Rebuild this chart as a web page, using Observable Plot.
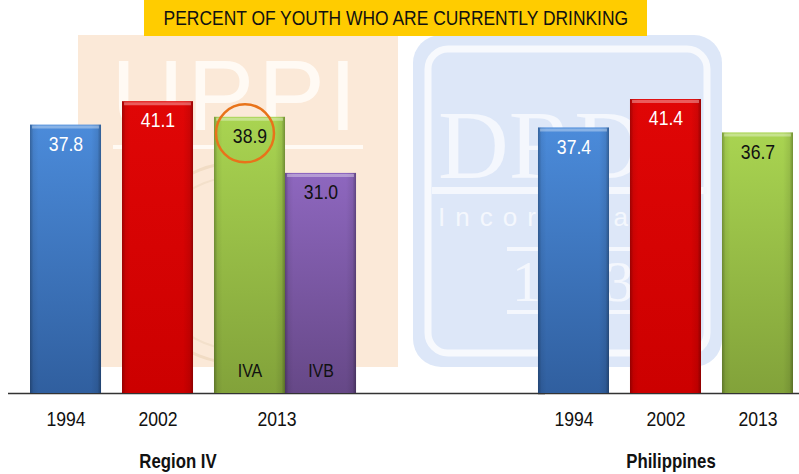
<!DOCTYPE html>
<html><head><meta charset="utf-8">
<script src="https://cdn.jsdelivr.net/npm/d3@7"></script>
<script src="https://cdn.jsdelivr.net/npm/@observablehq/plot@0.6"></script>
<style>
body{margin:0;background:#fff;overflow:hidden;}
#wrap{position:relative;width:799px;height:474px;}
#bg{position:absolute;left:0;top:0;}
#chart{position:absolute;left:0;top:0;}
#title{position:absolute;left:144px;top:0;width:503px;height:36px;background:#ffcc00;font-family:"Liberation Sans Narrow","Arial Narrow","Liberation Sans",sans-serif;font-size:21px;color:#111;display:flex;align-items:center;justify-content:center;white-space:nowrap;}
#title span{display:inline-block;transform:scaleX(0.83);}
</style></head>
<body>
<div id="wrap">
<svg id="bg" width="799" height="474">
  <rect x="78" y="35" width="320" height="332" fill="#fbe9d8"/>
  <text x="236" y="130" text-anchor="middle" font-family="'Liberation Sans', sans-serif" font-weight="400" font-size="100" letter-spacing="4" fill="#fffaf4">UPPI</text>
  <rect x="113" y="145" width="250" height="4" fill="#fffaf4"/>
  <circle cx="236" cy="263" r="100" fill="none" stroke="#f1dcc4" stroke-width="3"/>
  <circle cx="236" cy="263" r="86" fill="none" stroke="#f3e0cb" stroke-width="2"/>
  <rect x="413" y="35" width="309" height="332" rx="28" fill="#dde7f8"/>
  <rect x="428" y="49" width="279" height="304" rx="20" fill="none" stroke="#fff" stroke-opacity="0.75" stroke-width="7"/>
  <text x="438" y="178" font-family="'Liberation Serif', serif" font-size="98" fill="#f4f7fd">DRDF</text>
  <rect x="432" y="187" width="275" height="7" fill="#f4f7fd"/>
  <text x="438" y="226" font-family="'Liberation Sans', sans-serif" font-size="26" letter-spacing="10" fill="#f4f7fd">Incorporated</text>
  <rect x="507" y="247" width="133" height="4" fill="#f4f7fd"/>
  <text x="512" y="301" font-family="'Liberation Serif', serif" font-size="58" letter-spacing="2" fill="#f4f7fd">1983</text>
  <rect x="507" y="310" width="133" height="4" fill="#f4f7fd"/>
</svg>
<div id="chart"></div>
<div id="title"><span>PERCENT OF YOUTH WHO ARE CURRENTLY DRINKING</span></div>
</div>
<script>
// ---- data ----
const groups = ["Region IV", "Philippines"];
const years = ["1994", "2002", "2013"];
const regionIV = [37.8, 41.1, 38.9];      // 2013 = IVA
const regionIVsub = ["", "", "IVA"];
const regionIVB = [31.0];                 // 2013 IVB
const regionIVBsub = ["IVB"];
const philippines = [37.4, 41.4, 36.7];

const seriesFill = {"1994": "url(#g1994)", "2002": "url(#g2002)", "2013": "url(#g2013)", "IVB": "url(#gIVB)"};
const lightText = ["1994", "2002"];

const rows = [];
years.forEach((y, i) => rows.push({group: groups[0], year: y, value: regionIV[i], series: y, sub: regionIVsub[i]}));
years.forEach((y, i) => rows.push({group: groups[1], year: y, value: philippines[i], series: y, sub: ""}));
const shifted = regionIVB.map((v, i) => ({group: groups[0], year: "2013", value: v, series: "IVB", sub: regionIVBsub[i]}));

const yearRows = [];
groups.forEach(g => years.forEach(y => yearRows.push({group: g, year: y})));

const FONT = "'Liberation Sans Narrow', 'Arial Narrow', 'Liberation Sans', sans-serif";

function make(bw) {
  const marks = [];
  // baseline
  marks.push(Plot.ruleY([{g: groups[0], v: 0}], {y: "v", fx: "g", insetLeft: -22, insetRight: -260, stroke: "#333", strokeWidth: 1.5}));
  marks.push(Plot.ruleY([{g: groups[1], v: 0}], {y: "v", fx: "g", insetRight: -6, stroke: "#333", strokeWidth: 1.5}));
  // bars
  for (const s of Object.keys(seriesFill)) {
    const main = rows.filter(d => d.series === s);
    const sh = shifted.filter(d => d.series === s);
    if (main.length) marks.push(Plot.barY(main, {x: "year", y: "value", fx: "group", fill: seriesFill[s]}));
    if (sh.length) marks.push(Plot.barY(sh, {x: "year", y: "value", fx: "group", fill: seriesFill[s], dx: bw}));
  }
  // bevel overlays
  marks.push(Plot.barY(rows, {x: "year", y: "value", fx: "group", fill: "url(#bevel)"}));
  marks.push(Plot.barY(shifted, {x: "year", y: "value", fx: "group", fill: "url(#bevel)", dx: bw}));
  marks.push(Plot.tickY(rows, {x: "year", y: "value", fx: "group", stroke: "white", strokeOpacity: 0.35, strokeWidth: 3, dy: 2, insetLeft: 2, insetRight: 2}));
  marks.push(Plot.tickY(shifted, {x: "year", y: "value", fx: "group", stroke: "white", strokeOpacity: 0.35, strokeWidth: 3, dy: 2, dx: bw, insetLeft: 2, insetRight: 2}));
  // value labels
  marks.push(Plot.text(rows.filter(d => lightText.includes(d.series)), {x: "year", y: "value", fx: "group", text: d => d.value.toFixed(1), dy: 19, fill: "white", lineAnchor: "middle"}));
  marks.push(Plot.text(rows.filter(d => !lightText.includes(d.series)), {x: "year", y: "value", fx: "group", text: d => d.value.toFixed(1), dy: 19, fill: "#111", lineAnchor: "middle"}));
  marks.push(Plot.text(shifted, {x: "year", y: "value", fx: "group", text: d => d.value.toFixed(1), dy: 19, dx: bw, fill: "#111", lineAnchor: "middle"}));
  // sub labels
  marks.push(Plot.text(rows.filter(d => d.sub), {x: "year", fx: "group", text: "sub", frameAnchor: "bottom", dy: -23, fill: "#111", fontSize: 19, lineAnchor: "middle"}));
  marks.push(Plot.text(shifted, {x: "year", fx: "group", text: "sub", frameAnchor: "bottom", dy: -23, dx: bw, fill: "#111", fontSize: 19, lineAnchor: "middle"}));
  // highlight circle
  marks.push(Plot.dot(rows.filter(d => d.sub === "IVA"), {x: "year", y: "value", fx: "group", r: 29, dx: -5, dy: 16, stroke: "#e8731a", strokeWidth: 2.5, fill: "none"}));
  // year labels
  const special = d => d.group === groups[0] && d.year === "2013";
  marks.push(Plot.text(yearRows.filter(d => !special(d)), {x: "year", fx: "group", text: "year", frameAnchor: "bottom", dy: 26, fill: "#111", lineAnchor: "middle"}));
  marks.push(Plot.text(yearRows.filter(special), {x: "year", fx: "group", text: "year", frameAnchor: "bottom", dy: 26, dx: 27, fill: "#111", lineAnchor: "middle"}));
  // group labels
  marks.push(Plot.text([groups[0]], {fx: d => d, text: d => d, frameAnchor: "bottom", dy: 68, dx: 20, fontWeight: "bold", fontSize: 20, fill: "#111", lineAnchor: "middle"}));
  marks.push(Plot.text([groups[1]], {fx: d => d, text: d => d, frameAnchor: "bottom", dy: 68, dx: 5, fontWeight: "bold", fontSize: 20, fill: "#111", lineAnchor: "middle"}));

  return Plot.plot({
    width: 799,
    height: 474,
    marginLeft: 30,
    marginRight: 6,
    marginTop: 38,
    marginBottom: 81,
    style: {fontFamily: FONT, fontSize: "21px", background: "none", overflow: "visible"},
    fx: {domain: groups, paddingInner: 0.498, paddingOuter: 0, axis: null, round: false},
    x: {domain: years, paddingInner: 0.228, paddingOuter: 0, axis: null, round: false},
    y: {domain: [0, 50], axis: null},
    marks
  });
}

let bw = 71;
try {
  const p0 = make(0);
  const sx = p0.scale("x");
  if (sx && sx.bandwidth) bw = sx.bandwidth;
} catch (e) {}
const plot = make(bw);

const defs = `
<linearGradient id="g1994" x1="0" y1="0" x2="0" y2="1"><stop offset="0" stop-color="#4b8bda"/><stop offset="1" stop-color="#305f9f"/></linearGradient>
<linearGradient id="g2002" x1="0" y1="0" x2="0" y2="1"><stop offset="0" stop-color="#e00606"/><stop offset="1" stop-color="#cc0000"/></linearGradient>
<linearGradient id="g2013" x1="0" y1="0" x2="0" y2="1"><stop offset="0" stop-color="#a9d451"/><stop offset="1" stop-color="#82a23a"/></linearGradient>
<linearGradient id="gIVB" x1="0" y1="0" x2="0" y2="1"><stop offset="0" stop-color="#8e67bf"/><stop offset="1" stop-color="#664887"/></linearGradient>
<linearGradient id="bevel" x1="0" y1="0" x2="1" y2="0">
  <stop offset="0" stop-color="#000" stop-opacity="0.28"/>
  <stop offset="0.05" stop-color="#000" stop-opacity="0.06"/>
  <stop offset="0.12" stop-color="#000" stop-opacity="0"/>
  <stop offset="0.86" stop-color="#000" stop-opacity="0"/>
  <stop offset="0.95" stop-color="#000" stop-opacity="0.08"/>
  <stop offset="1" stop-color="#000" stop-opacity="0.32"/>
</linearGradient>`;
d3.select(plot).insert("defs", ":first-child").html(defs);

// condense the text horizontally (no narrow font is installed); keep Plot's own line offsets
d3.select(plot).selectAll("text").each(function () {
  const t = this.getAttribute("transform") || "";
  this.setAttribute("transform", `${t} scale(0.84,1)`);
});
document.getElementById("chart").appendChild(plot);
</script>
</body></html>
